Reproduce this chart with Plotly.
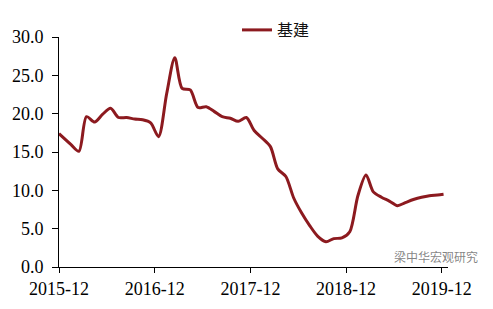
import plotly.graph_objects as go

dates = [
    "2015-12-01", "2016-01-15", "2016-02-15", "2016-03-15", "2016-04-15", "2016-05-15",
    "2016-06-15", "2016-07-15", "2016-08-15", "2016-09-15", "2016-10-15", "2016-11-15",
    "2016-12-15", "2017-01-15", "2017-02-15", "2017-03-15", "2017-04-15", "2017-05-15",
    "2017-06-15", "2017-07-15", "2017-08-15", "2017-09-15", "2017-10-15", "2017-11-15",
    "2017-12-15", "2018-01-15", "2018-02-15", "2018-03-15", "2018-04-15", "2018-05-15",
    "2018-06-15", "2018-07-15", "2018-08-15", "2018-09-15", "2018-10-15", "2018-11-15",
    "2018-12-15", "2019-01-15", "2019-02-15", "2019-03-15", "2019-04-15", "2019-05-15",
    "2019-06-15", "2019-07-15", "2019-08-15", "2019-09-15", "2019-10-15", "2019-11-15",
    "2019-12-08",
]
infra = [
    17.4, 16.0, 15.1, 19.6, 18.9, 19.9,
    20.7, 19.5, 19.5, 19.3, 19.2, 18.8,
    17.0, 22.6, 27.3, 23.3, 23.1, 20.8,
    20.9, 20.3, 19.6, 19.4, 19.0, 19.5,
    17.8, 16.8, 15.7, 12.8, 11.8, 9.0,
    7.0, 5.4, 4.0, 3.3, 3.7, 3.8,
    4.6, 9.3, 12.0, 9.8, 9.1, 8.6,
    8.0, 8.4, 8.8, 9.1, 9.3, 9.4,
    9.5,
]
series_name = "基建"
x_tickvals = ["2015-12-01", "2016-12-01", "2017-12-01", "2018-12-01", "2019-12-01"]
x_ticktext = ["2015-12", "2016-12", "2017-12", "2018-12", "2019-12"]
y_tickvals = [0, 5, 10, 15, 20, 25, 30]
y_ticktext = ["0.0", "5.0", "10.0", "15.0", "20.0", "25.0", "30.0"]
watermark = "梁中华宏观研究"

fig = go.Figure()
fig.add_trace(go.Scatter(
    x=dates, y=infra, mode="lines", name=series_name,
    line=dict(color="#8C1A1F", width=3, shape="spline", smoothing=0.8),
))

serif = "Liberation Serif"
fig.update_layout(
    width=493, height=309,
    margin=dict(l=59, r=45, t=37, b=42, autoexpand=False),
    paper_bgcolor="white", plot_bgcolor="white",
    showlegend=True,
    legend=dict(
        orientation="h", x=(237 - 59) / 389, y=1 + (37 - 30) / 230,
        xanchor="left", yanchor="middle",
        font=dict(family="Noto Sans CJK SC", size=16, color="#111111"),
        bgcolor="rgba(0,0,0,0)",
    ),
    xaxis=dict(
        type="date",
        range=["2015-12-01", "2019-12-25"],
        tickmode="array", tickvals=x_tickvals, ticktext=x_ticktext,
        showgrid=False, zeroline=False,
        showline=True, linecolor="black", linewidth=1,
        ticks="outside", ticklen=5, tickcolor="black", tickwidth=1,
        tickfont=dict(family=serif, size=18, color="black"),
    ),
    yaxis=dict(
        range=[0, 30],
        tickmode="array", tickvals=y_tickvals, ticktext=y_ticktext,
        showgrid=False, zeroline=False,
        showline=True, linecolor="black", linewidth=1,
        ticks="outside", ticklen=6, tickcolor="black", tickwidth=1,
        tickfont=dict(family=serif, size=18, color="black"),
        ticklabelstandoff=5,
    ),
    annotations=[dict(
        text=watermark, xref="paper", yref="paper",
        x=(436 - 59) / 389, y=(267 - 256) / 230,
        xanchor="center", yanchor="middle", showarrow=False,
        font=dict(family="Noto Sans CJK SC", size=12, color="rgba(110,110,110,0.85)"),
    )],
)

fig.write_html("out.html")
